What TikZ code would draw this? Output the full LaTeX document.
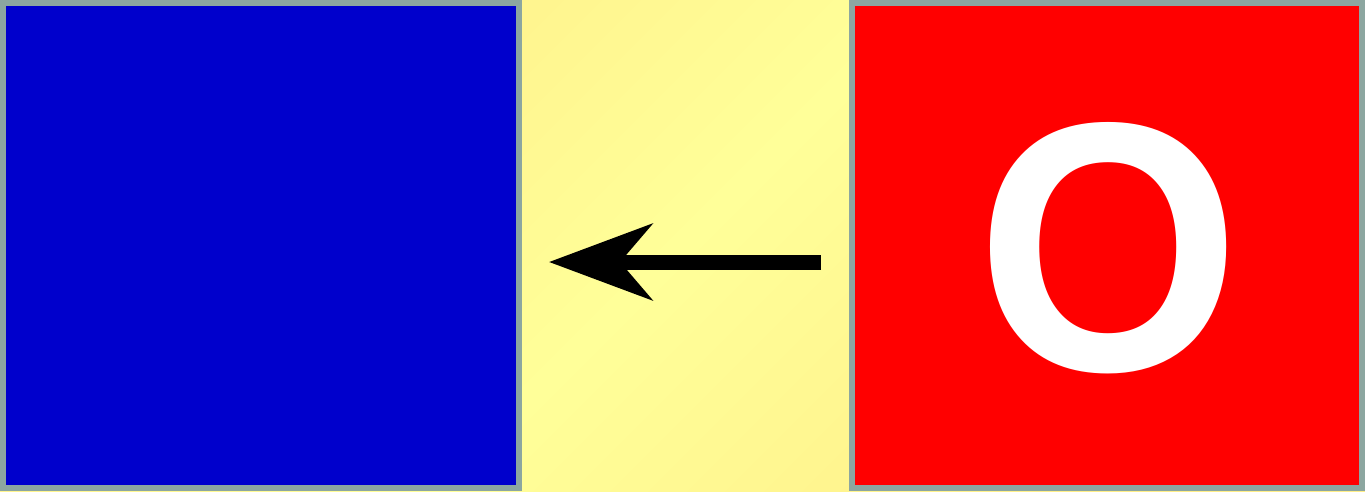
\documentclass[tikz,border=0pt]{standalone}
\usepackage{fontspec}
\newfontfamily\letterfont{Liberation Sans}
\usetikzlibrary{arrows.meta}
\definecolor{bordergray}{RGB}{140,166,160}
\definecolor{bgdark}{RGB}{255,238,136}
\definecolor{bglight}{RGB}{255,255,153}
\definecolor{boxblue}{RGB}{0,0,204}
\definecolor{boxred}{RGB}{255,0,0}
\tikzset{
  square/.style={draw=bordergray, line width=6pt, rectangle, inner sep=0pt, outer sep=0pt,
    minimum width=#1, minimum height=485pt},
  bigletter/.style={text=white, inner sep=0pt, font=\letterfont\bfseries\fontsize{340}{340}\selectfont},
  bigarrow/.style={line width=15pt, line cap=butt, draw=black,
    -{Stealth[length=103pt,width=76pt,inset=32pt]}}
}
\begin{document}
\begin{tikzpicture}[x=1pt,y=-1pt]
\useasboundingbox (0,0) rectangle (1365,491);
\shade[top color=bgdark, bottom color=bgdark, middle color=bglight, shading angle=45]
  (0,0) rectangle (1365,491);
\node[square=516pt, fill=boxblue] (blue) at (261,245.5) {};
\node[square=510pt, fill=boxred] (red) at (1107,245.5) {};
\node[bigletter, anchor=base] (letter) at (1109,370) {\scalebox{1}[1.045]{O}};
\coordinate (arrowstart) at (821,262);
\coordinate (arrowend) at (549,262);
\draw[bigarrow] (arrowstart) -- (arrowend);
\end{tikzpicture}
\end{document}
